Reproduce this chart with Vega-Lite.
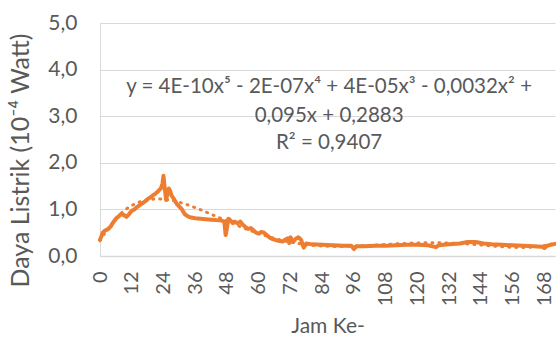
{
  "$schema": "https://vega.github.io/schema/vega-lite/v6.json",
  "width": 455,
  "height": 233,
  "padding": {"left": 100, "top": 23, "right": 1, "bottom": 87},
  "autosize": {"type": "none"},
  "background": "#ffffff",
  "config": {
    "view": {"stroke": null},
    "font": "Lato",
    "axis": {"labelFont": "Lato", "titleFont": "Lato", "labelColor": "#595959", "titleColor": "#595959", "titleFontWeight": "normal", "gridColor": "#D9D9D9", "domainColor": "#D9D9D9", "ticks": false},
    "axisX": {"labelOverlap": false, "labelFlush": false, "labelBound": false}
  },
  "datasets": {
    "power": [
      {"hour": 0, "value": 0.35}, {"hour": 0.5, "value": 0.42}, {"hour": 1, "value": 0.5}, {"hour": 2, "value": 0.55},
      {"hour": 3, "value": 0.57}, {"hour": 4, "value": 0.63}, {"hour": 5, "value": 0.72}, {"hour": 6, "value": 0.8},
      {"hour": 7, "value": 0.85}, {"hour": 8, "value": 0.9}, {"hour": 9, "value": 0.88}, {"hour": 10, "value": 0.84},
      {"hour": 11, "value": 0.9}, {"hour": 12, "value": 0.97}, {"hour": 13, "value": 1.0}, {"hour": 14, "value": 1.05},
      {"hour": 15, "value": 1.09}, {"hour": 16, "value": 1.13}, {"hour": 17, "value": 1.17}, {"hour": 18, "value": 1.22},
      {"hour": 19, "value": 1.26}, {"hour": 20, "value": 1.3}, {"hour": 21, "value": 1.34}, {"hour": 22, "value": 1.39},
      {"hour": 23, "value": 1.45}, {"hour": 23.6, "value": 1.55}, {"hour": 24, "value": 1.72}, {"hour": 24.4, "value": 1.5},
      {"hour": 25, "value": 1.2}, {"hour": 25.5, "value": 1.35}, {"hour": 26, "value": 1.45}, {"hour": 26.5, "value": 1.4},
      {"hour": 27, "value": 1.3}, {"hour": 28, "value": 1.22}, {"hour": 29, "value": 1.12}, {"hour": 30, "value": 1.06},
      {"hour": 31, "value": 1.0}, {"hour": 32, "value": 0.9}, {"hour": 33, "value": 0.86}, {"hour": 34, "value": 0.83},
      {"hour": 35, "value": 0.82}, {"hour": 36, "value": 0.81}, {"hour": 38, "value": 0.8}, {"hour": 40, "value": 0.79},
      {"hour": 42, "value": 0.78}, {"hour": 44, "value": 0.77}, {"hour": 46, "value": 0.76}, {"hour": 47, "value": 0.74},
      {"hour": 47.5, "value": 0.45}, {"hour": 48, "value": 0.6}, {"hour": 48.5, "value": 0.8}, {"hour": 49, "value": 0.78},
      {"hour": 50, "value": 0.72}, {"hour": 51, "value": 0.74}, {"hour": 52, "value": 0.7}, {"hour": 53, "value": 0.74},
      {"hour": 54, "value": 0.67}, {"hour": 55, "value": 0.62}, {"hour": 56, "value": 0.58}, {"hour": 57, "value": 0.6},
      {"hour": 58, "value": 0.55}, {"hour": 59, "value": 0.5}, {"hour": 60, "value": 0.48}, {"hour": 61, "value": 0.52},
      {"hour": 62, "value": 0.5}, {"hour": 63, "value": 0.45}, {"hour": 64, "value": 0.4}, {"hour": 65, "value": 0.37},
      {"hour": 66, "value": 0.35}, {"hour": 67, "value": 0.33}, {"hour": 68, "value": 0.32}, {"hour": 69, "value": 0.31},
      {"hour": 70, "value": 0.35}, {"hour": 71, "value": 0.38}, {"hour": 71.5, "value": 0.28}, {"hour": 72, "value": 0.4},
      {"hour": 73, "value": 0.3}, {"hour": 74, "value": 0.37}, {"hour": 75, "value": 0.4}, {"hour": 76, "value": 0.35},
      {"hour": 76.5, "value": 0.26}, {"hour": 77, "value": 0.18}, {"hour": 78, "value": 0.27}, {"hour": 79, "value": 0.26},
      {"hour": 80, "value": 0.25}, {"hour": 84, "value": 0.24}, {"hour": 88, "value": 0.23}, {"hour": 92, "value": 0.22},
      {"hour": 95, "value": 0.22}, {"hour": 96, "value": 0.15}, {"hour": 97, "value": 0.21}, {"hour": 100, "value": 0.21},
      {"hour": 104, "value": 0.22}, {"hour": 108, "value": 0.22}, {"hour": 112, "value": 0.23}, {"hour": 116, "value": 0.24},
      {"hour": 120, "value": 0.24}, {"hour": 124, "value": 0.23}, {"hour": 127, "value": 0.19}, {"hour": 128, "value": 0.23},
      {"hour": 132, "value": 0.25}, {"hour": 136, "value": 0.27}, {"hour": 139, "value": 0.3}, {"hour": 142, "value": 0.3},
      {"hour": 145, "value": 0.27}, {"hour": 148, "value": 0.25}, {"hour": 152, "value": 0.24}, {"hour": 156, "value": 0.23},
      {"hour": 160, "value": 0.22}, {"hour": 164, "value": 0.21}, {"hour": 167, "value": 0.2}, {"hour": 168, "value": 0.17},
      {"hour": 169, "value": 0.22}, {"hour": 172, "value": 0.26}
    ],
    "label": [
      {"line": "y = 4E-10x⁵ - 2E-07x⁴ + 4E-05x³ - 0,0032x² +", "hour": 86.6, "value": 3.63},
      {"line": "0,095x + 0,2883", "hour": 86.6, "value": 3.01},
      {"line": "R² = 0,9407", "hour": 86.6, "value": 2.43}
    ]
  },
  "encoding": {
    "x": {"field": "hour", "type": "quantitative", "scale": {"domain": [0, 172], "nice": false, "zero": false},
      "axis": {"values": [0, 12, 24, 36, 48, 60, 72, 84, 96, 108, 120, 132, 144, 156, 168], "grid": false, "labelAngle": -90, "labelOverlap": false, "labelSeparation": 0, "labelFontSize": 20, "labelPadding": 15, "title": "Jam Ke-", "titleFontSize": 21, "titlePadding": 10, "domainWidth": 1.5}},
    "y": {"field": "value", "type": "quantitative", "scale": {"domain": [0, 5], "nice": false},
      "axis": {"values": [0, 1, 2, 3, 4, 5], "labelExpr": "replace(format(datum.value, '.1f'), '.', ',')", "labelFontSize": 21, "labelPadding": 23, "title": "Daya Listrik (10⁻⁴ Watt)", "titleFontSize": 25, "titlePadding": 14, "titleY": 137, "domain": true, "gridWidth": 1}}
  },
  "layer": [
    {
      "data": {"name": "power"},
      "mark": {"type": "line", "color": "#ED7D31", "strokeWidth": 4, "strokeJoin": "round", "strokeCap": "round"}
    },
    {
      "data": {"name": "power"},
      "transform": [{"regression": "value", "on": "hour", "method": "poly", "order": 5}],
      "mark": {"type": "line", "color": "#ED7D31", "strokeWidth": 3, "strokeDash": [1, 6], "strokeCap": "round"}
    },
    {
      "data": {"name": "label"},
      "mark": {"type": "text", "fontSize": 20.5, "color": "#595959", "align": "center", "baseline": "middle", "font": "Lato"},
      "encoding": {"text": {"field": "line"}}
    }
  ]
}
